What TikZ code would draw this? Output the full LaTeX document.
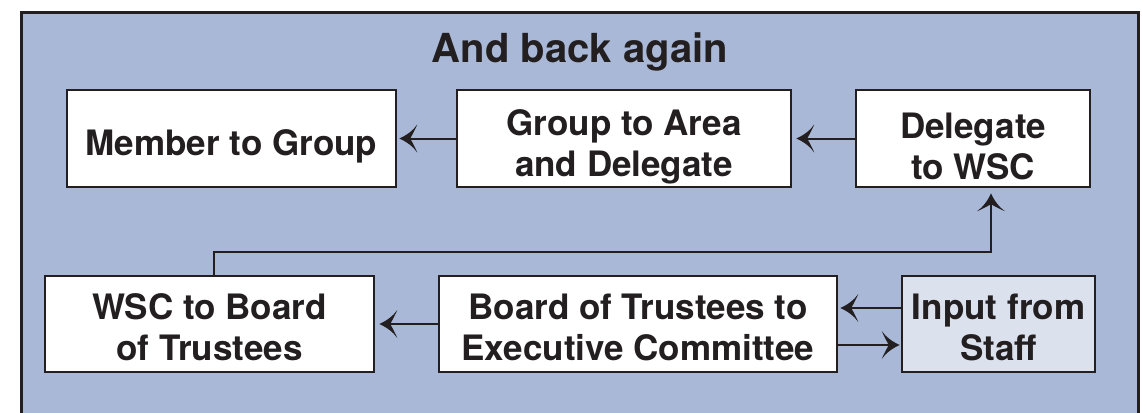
\documentclass[tikz,border=0pt]{standalone}
\usepackage{fontspec}
\setmainfont{TeX Gyre Heros}
\usetikzlibrary{arrows.meta}
\definecolor{bgblue}{RGB}{168,184,214}
\definecolor{staffbg}{RGB}{220,225,238}
\definecolor{ink}{RGB}{35,31,32}
\pgfdeclarearrow{
  name=Curvy,
  setup code={
    \pgfarrowssettipend{0pt}
    \pgfarrowssetbackend{-18pt}
    \pgfarrowssetlineend{-9pt}
    \pgfarrowshullpoint{0pt}{0pt}
    \pgfarrowshullpoint{-18pt}{14pt}
    \pgfarrowshullpoint{-18pt}{-14pt}
  },
  drawing code={
    \pgfpathmoveto{\pgfqpoint{0pt}{0pt}}
    \pgfpathcurveto{\pgfqpoint{-7pt}{3pt}}{\pgfqpoint{-14pt}{8pt}}{\pgfqpoint{-18pt}{14pt}}
    \pgfpathcurveto{\pgfqpoint{-15pt}{7pt}}{\pgfqpoint{-12pt}{2pt}}{\pgfqpoint{-11pt}{0pt}}
    \pgfpathcurveto{\pgfqpoint{-12pt}{-2pt}}{\pgfqpoint{-15pt}{-7pt}}{\pgfqpoint{-18pt}{-14pt}}
    \pgfpathcurveto{\pgfqpoint{-14pt}{-8pt}}{\pgfqpoint{-7pt}{-3pt}}{\pgfqpoint{0pt}{0pt}}
    \pgfpathclose
    \pgfusepathqfill
  }
}
\tikzset{
  box/.style={draw=ink, line width=2.5pt, fill=white, inner sep=0pt},
  txt/.style={align=center, text=ink, font=\fontsize{35}{41}\selectfont\bfseries, inner sep=0pt},
  arr/.style={draw=ink, fill=ink, line width=2pt, -{Curvy}},
  frame/.style={draw=ink, line width=3pt, fill=bgblue}
}
\begin{document}
\begin{tikzpicture}[x=1pt,y=-1pt]
\useasboundingbox (0,0) rectangle (1142,412);
\clip (0,0) rectangle (1142,412);
\draw[frame] (21,13) rectangle (1138,440);
\node[anchor=base, text=ink, font=\fontsize{40}{46}\selectfont\bfseries] (title) at (580,63) {And back again};
\node[box, minimum width=329pt, minimum height=97pt] (member) at (231.5,138.5) {};
\node[box, minimum width=334pt, minimum height=97pt] (group) at (624,138.5) {};
\node[box, minimum width=234pt, minimum height=97pt] (delegate) at (973,138.5) {};
\node[box, minimum width=329pt, minimum height=96pt] (wsc) at (209.5,324) {};
\node[box, minimum width=398pt, minimum height=96pt] (board) at (638,324) {};
\node[box, fill=staffbg, minimum width=193pt, minimum height=96pt] (staff) at (998.5,324) {};
\node[txt] (memberT) at ([yshift=-8pt]member.center) {Member to Group};
\node[txt] (groupT) at ([yshift=-8pt]group.center) {Group to Area\\and Delegate};
\node[txt] (delegateT) at ([yshift=-8pt]delegate.center) {Delegate\\to WSC};
\node[txt] (wscT) at ([yshift=-3pt]wsc.center) {WSC to Board\\of Trustees};
\node[txt] (boardT) at ([yshift=-3pt]board.center) {Board of Trustees to\\Executive Committee};
\node[txt] (staffT) at ([yshift=-3pt]staff.center) {Input from\\Staff};
\coordinate (turn) at (600,252);
\draw[arr, shorten >=2pt] (group.west) -- (member.east);
\draw[arr, shorten >=4pt] (delegate.west) -- (group.east);
\draw[arr, shorten >=4pt] (board.west) -- (wsc.east);
\draw[arr, shorten >=2pt] ([yshift=16pt]staff.west) -- ([yshift=16pt]board.east);
\draw[arr, shorten >=1pt] ([yshift=-21pt]board.east) -- ([yshift=-21pt]staff.west);
\draw[arr, fill=none, shorten >=5pt] ([xshift=4.5pt]wsc.north) |- (turn) -| ([xshift=18pt]delegate.south);
\end{tikzpicture}
\end{document}
